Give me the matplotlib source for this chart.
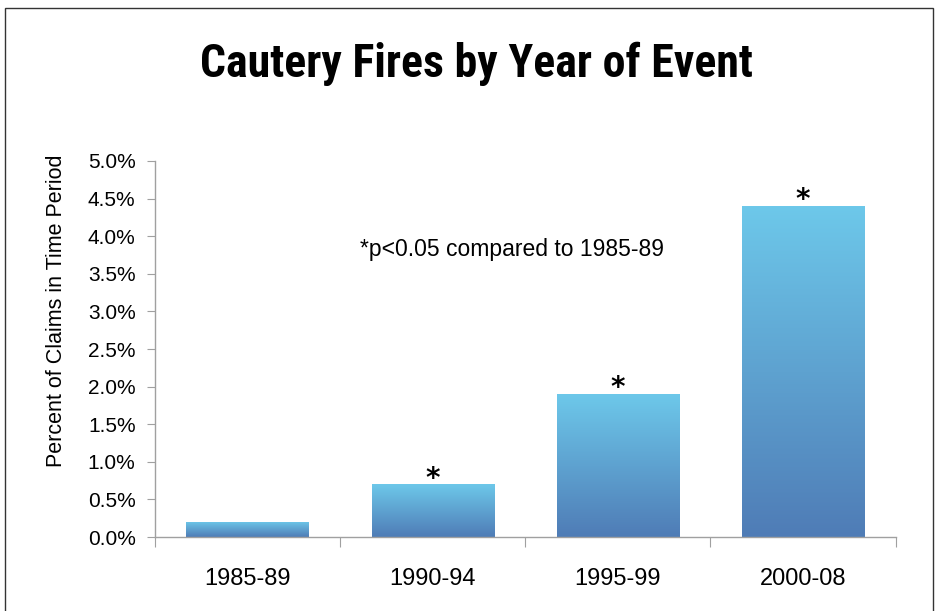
import numpy as np
import matplotlib
matplotlib.use('Agg')
import matplotlib.pyplot as plt
from matplotlib.patches import Rectangle
from matplotlib.colors import LinearSegmentedColormap

categories = ['1985-89', '1990-94', '1995-99', '2000-08']
percent = [0.2, 0.7, 1.9, 4.4]
significant = [False, True, True, True]
y_ticks = [0.0, 0.5, 1.0, 1.5, 2.0, 2.5, 3.0, 3.5, 4.0, 4.5, 5.0]

title = 'Cautery Fires by Year of Event'
y_label = 'Percent of Claims in Time Period'
note = '*p<0.05 compared to 1985-89'

plt.rcParams['font.family'] = ['Liberation Sans', 'DejaVu Sans']

fig = plt.figure(figsize=(9.36, 6.11), dpi=100)
ax = fig.add_axes([0.1656, 0.1211, 0.7912, 0.6154])

# gradient: light cyan at the top, darker blue at the bottom
cmap = LinearSegmentedColormap.from_list('bar_grad', ['#4f7cb6', '#6dc8ea'])
grad = np.linspace(0, 1, 256).reshape(-1, 1)

x = np.arange(len(categories))
bars = ax.bar(x, percent, width=0.66, color='none', edgecolor='none')
for b in bars:
    x0, w, h = b.get_x(), b.get_width(), b.get_height()
    im = ax.imshow(grad, cmap=cmap, origin='lower', aspect='auto',
                   extent=[x0, x0 + w, 0, h], zorder=2)
    im.set_clip_path(b)

for xi, v, sig in zip(x, percent, significant):
    if sig:
        ax.annotate('*', (xi, v), xytext=(0, -6), textcoords='offset points',
                    ha='center', va='bottom', fontsize=20, fontweight='bold',
                    family=['DejaVu Sans'])

ax.set_xlim(-0.5, len(categories) - 0.5)
ax.set_ylim(0, 5.0)

# category boundaries as tick marks, labels at bar centres
ax.set_xticks(np.arange(-0.5, len(categories)))
ax.set_xticklabels([])
ax.set_xticks(x, minor=True)
ax.set_xticklabels(categories, minor=True, fontsize=17)
ax.tick_params(axis='x', which='major', direction='out', length=7, color='#a0a0a0')
ax.tick_params(axis='x', which='minor', length=0, pad=22)

ax.set_yticks(y_ticks)
ax.set_yticklabels(['{:.1f}%'.format(t) for t in y_ticks], fontsize=15)
ax.tick_params(axis='y', direction='out', length=6, color='#a0a0a0', pad=8)

for side in ['top', 'right']:
    ax.spines[side].set_visible(False)
for side in ['left', 'bottom']:
    ax.spines[side].set_color('#a0a0a0')
    ax.spines[side].set_linewidth(1.0)

ax.text(0.482, 0.765, note, transform=ax.transAxes, ha='center', va='center',
        fontsize=16.5)

fig.text(0.060, 0.492, y_label, rotation=90, ha='center', va='center', fontsize=15.5)
fig.text(0.5085, 0.896, title, ha='center', va='center', fontsize=33,
         fontweight='heavy', stretch='condensed',
         family=['Roboto Condensed', 'Roboto', 'Liberation Sans'])

# thin frame around the slide
fig.patches.append(Rectangle((5 / 936, -0.05), 928 / 936, 1.05 - 8 / 611,
                             transform=fig.transFigure, fill=False,
                             edgecolor='#333333', linewidth=1.0))

fig.savefig('out.png', dpi=100)
